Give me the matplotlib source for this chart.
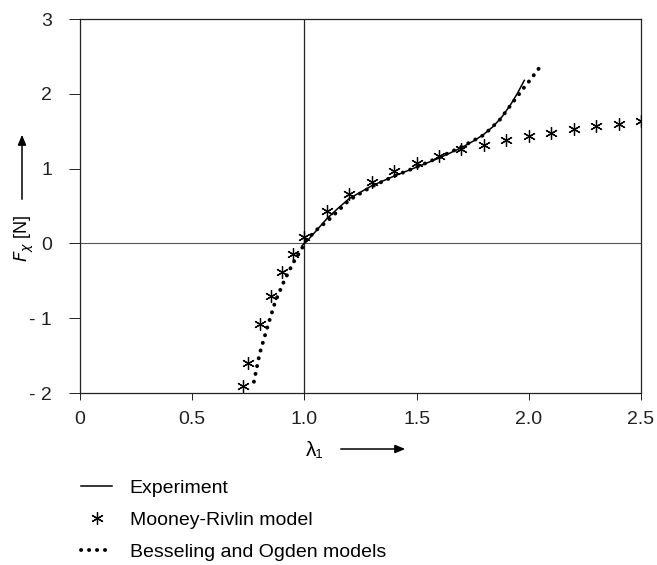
import matplotlib
matplotlib.use("Agg")
import matplotlib.pyplot as plt

plt.rcParams['font.family'] = ['Liberation Sans', 'DejaVu Sans']

# Experiment (solid line)
exp_x = [0.99, 1.02, 1.05, 1.10, 1.15, 1.20, 1.30, 1.40, 1.50, 1.60, 1.70, 1.76, 1.80, 1.84, 1.88, 1.92, 1.95, 1.98]
exp_y = [-0.03, 0.06, 0.16, 0.33, 0.47, 0.60, 0.77, 0.90, 1.02, 1.14, 1.28, 1.38, 1.46, 1.56, 1.69, 1.86, 2.01, 2.18]

# Mooney-Rivlin model (asterisks)
mr_x = [0.725, 0.75, 0.80, 0.85, 0.90, 0.95, 1.00, 1.10, 1.20, 1.30, 1.40, 1.50, 1.60, 1.70,
        1.80, 1.90, 2.00, 2.10, 2.20, 2.30, 2.40, 2.50]
mr_y = [-1.90, -1.60, -1.08, -0.70, -0.38, -0.14, 0.08, 0.43, 0.66, 0.82, 0.97, 1.07, 1.17, 1.26,
        1.32, 1.38, 1.44, 1.48, 1.53, 1.57, 1.60, 1.63]

# Besseling and Ogden models (dotted)
bo_x = [0.775, 0.80, 0.835, 0.87, 0.91, 0.95, 0.985, 1.005, 1.05, 1.11, 1.20, 1.30, 1.40, 1.50,
        1.60, 1.70, 1.80, 1.87, 1.92, 1.97, 2.01, 2.045]
bo_y = [-1.85, -1.48, -1.12, -0.78, -0.50, -0.26, -0.09, 0.03, 0.17, 0.32, 0.58, 0.76, 0.90, 1.02,
        1.15, 1.29, 1.45, 1.65, 1.85, 2.05, 2.20, 2.34]

x_ticks = [0, 0.5, 1.0, 1.5, 2.0, 2.5]
x_ticklabels = ['0', '0.5', '1.0', '1.5', '2.0', '2.5']
y_ticks = [-2, -1, 0, 1, 2, 3]
y_ticklabels = ['- 2', '- 1', '0', '1', '2', '3']

fig = plt.figure(figsize=(6.57, 5.65), dpi=100)
W, H = 657, 565
l, r, t, b = 80, 641, 19, 393
ax = fig.add_axes([l / W, 1 - b / H, (r - l) / W, (b - t) / H])

lc = '#222222'
ax.axhline(0, color='#555555', lw=0.8, zorder=1)
ax.axvline(1.0, color=lc, lw=0.9, zorder=1)

h_exp, = ax.plot(exp_x, exp_y, color='black', lw=1.1, zorder=3)
h_bo, = ax.plot(bo_x, bo_y, color='black', lw=2.8, linestyle=(0, (0.05, 2.0)),
                dash_capstyle='round', zorder=4)
h_mr, = ax.plot(mr_x, mr_y, linestyle='none', marker=(6, 2, 0), markersize=9,
                markeredgewidth=0.9, color='black', zorder=5)

ax.set_xlim(0, 2.5)
ax.set_ylim(-2, 3)
ax.set_xticks(x_ticks)
ax.set_xticklabels(x_ticklabels)
ax.set_yticks(y_ticks)
ax.set_yticklabels(y_ticklabels)
for s in ax.spines.values():
    s.set_linewidth(0.9)
    s.set_color(lc)
ax.tick_params(axis='y', direction='out', length=8, width=0.7, pad=12, labelsize=14, colors=lc)
ax.tick_params(axis='x', direction='out', length=5, width=0.7, pad=8, labelsize=14, colors=lc)

# Axis labels with arrows
fig.text(24 / W, 1 - 238 / H, r'$F_\chi$ [N]', rotation=90, ha='center', va='center', fontsize=13)
fig.patches.append(matplotlib.patches.FancyArrowPatch(
    (22 / W, 1 - 202 / H), (22 / W, 1 - 132 / H), transform=fig.transFigure,
    arrowstyle='-|>,head_length=6,head_width=2.5', color='black', lw=1.1, mutation_scale=1))
fig.text(315 / W, 1 - 450 / H, 'λ₁', ha='center', va='center', fontsize=15)
fig.patches.append(matplotlib.patches.FancyArrowPatch(
    (338 / W, 1 - 449 / H), (408 / W, 1 - 449 / H), transform=fig.transFigure,
    arrowstyle='-|>,head_length=6,head_width=2.5', color='black', lw=1.1, mutation_scale=1))

leg = fig.legend([h_exp, h_mr, h_bo],
                 ['Experiment', 'Mooney-Rivlin model', 'Besseling and Ogden models'],
                 loc='upper left', bbox_to_anchor=(81 / W, 1 - 479 / H),
                 frameon=False, fontsize=14, numpoints=1, handlelength=1.6,
                 handletextpad=0.9, labelspacing=0.74, borderaxespad=0, borderpad=0)

fig.savefig('out.png', dpi=100)
